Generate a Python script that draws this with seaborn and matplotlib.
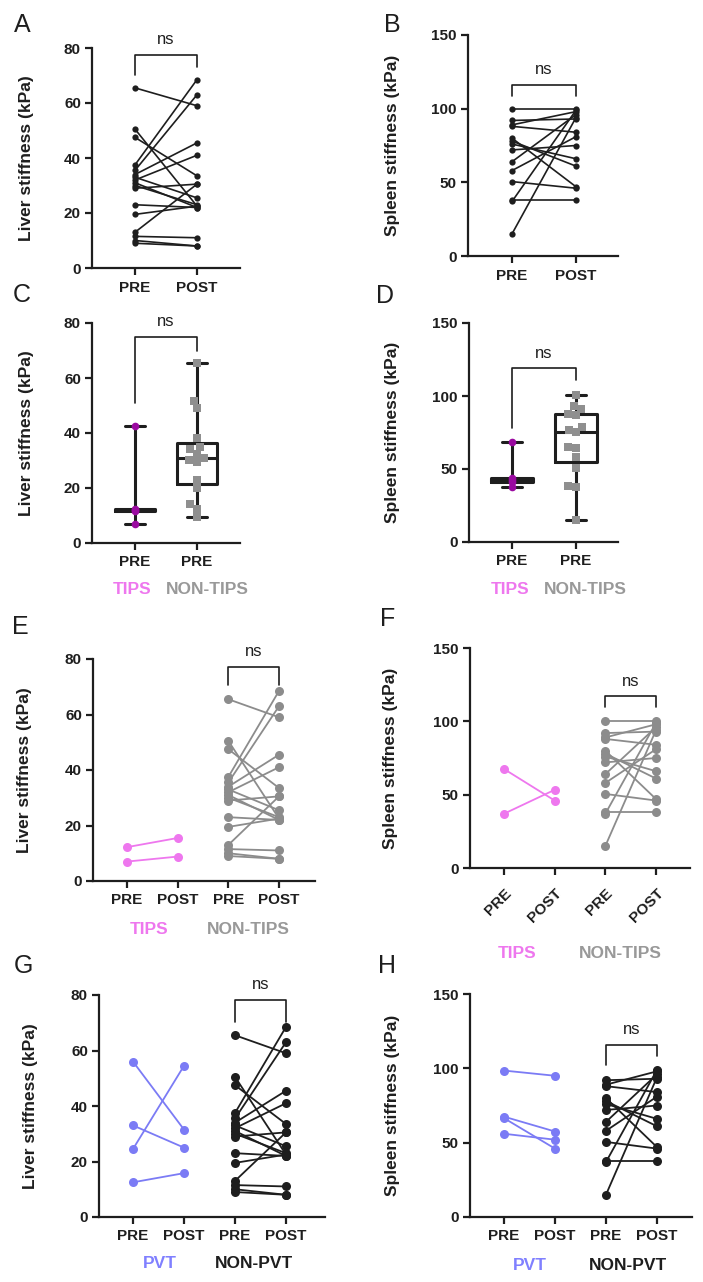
import numpy as np
import pandas as pd
import matplotlib
matplotlib.use("Agg")
import matplotlib.pyplot as plt
import seaborn as sns

# ---------------- data ----------------
time_labels = ["PRE", "POST"]

# all / non-TIPS / non-PVT liver stiffness (kPa)
liver_pre = [65.5, 50.5, 47.5, 37.5, 35.5, 34, 33, 32, 31, 30, 29, 23, 19.5, 13, 11.5, 10, 9]
liver_post = [59, 22.5, 33.5, 68.5, 63, 45.5, 25.5, 41, 22, 23, 30.5, 22, 22.5, 30.5, 11, 8, 8]

# all / non-TIPS spleen stiffness (kPa)
spleen_pre = [100, 92, 89, 88, 80, 78, 76, 72, 64, 58, 50.5, 38, 37, 15]
spleen_post = [100, 93, 98, 84, 47, 61, 66, 75, 96, 81, 46, 38, 99, 94]

# non-PVT spleen
nonpvt_spleen_pre = [92, 89, 88, 80, 78, 76, 72, 64, 58, 50.5, 38, 37, 15]
nonpvt_spleen_post = [93, 98, 84, 47, 61, 66, 75, 96, 81, 46, 38, 99, 94]

# TIPS pairs
tips_liver_pre = [12.2, 7.0]
tips_liver_post = [15.5, 8.8]
tips_spleen_pre = [67.5, 37.0]
tips_spleen_post = [46.0, 53.3]

# PVT pairs
pvt_liver_pre = [56, 33, 24.5, 12.5]
pvt_liver_post = [31.5, 25, 54.5, 15.8]
pvt_spleen_pre = [98.5, 67.5, 66.5, 56]
pvt_spleen_post = [95, 57.5, 46, 52]

# box panels (PRE only)
box_tips_liver = [42.5, 12.5, 12, 11.5, 7]
box_nontips_liver = [65.5, 51.5, 49, 38, 35, 34, 32.5, 31, 30, 29.5, 23, 20, 14, 12.5, 9.5]
box_tips_spleen = [68.5, 44, 42.5, 41, 38]
box_nontips_spleen = [100.5, 93, 91, 88, 87, 78.5, 77, 75, 65, 64.5, 58.5, 51, 38.5, 37.5, 15]

# ---------------- style ----------------
sns.set_style("ticks")
plt.rcParams["font.family"] = ["Liberation Sans", "DejaVu Sans"]

W, H = 703, 1282
fig = plt.figure(figsize=(W / 100, H / 100), dpi=100)

BLACK = "#1e1e1e"
GRAY = "#8c8c8c"
MAGENTA = "#ee77ee"
PURPLE = "#9a0aa0"
BLUE = "#7b7bf5"
SQUARE = "#8f8f8f"


def make_ax(spine_x, right_x, top_y, zero_y, c0, d, ymax):
    ax = fig.add_axes([spine_x / W, 1 - zero_y / H, (right_x - spine_x) / W, (zero_y - top_y) / H])
    ax._xl = ((spine_x - c0) / d, (right_x - c0) / d)
    ax._ymax = ymax
    return ax


def style(ax, yticks, xticklabels, rot=0):
    ax.set_xlim(*ax._xl)
    ax.set_ylim(0, ax._ymax)
    ax.set_yticks(yticks)
    ax.set_yticklabels([str(v) for v in yticks])
    ax.set_xticks(range(len(xticklabels)))
    if rot:
        ax.set_xticklabels(xticklabels, rotation=rot, ha="right", rotation_mode="anchor")
    else:
        ax.set_xticklabels(xticklabels)
    for s in ["top", "right"]:
        ax.spines[s].set_visible(False)
    ax.spines["left"].set_bounds(0, ax._ymax)
    for s in ["left", "bottom"]:
        ax.spines[s].set_linewidth(1.6)
        ax.spines[s].set_color(BLACK)
    ax.tick_params(axis="y", width=1.6, length=5, labelsize=11, pad=3, colors=BLACK)
    ax.tick_params(axis="x", width=1.6, length=5, labelsize=11, pad=8 if rot else 4, colors=BLACK)
    for lab in ax.get_xticklabels() + ax.get_yticklabels():
        lab.set_fontweight("bold")
    ax.set_xlabel("")
    ax.set_ylabel("")
    ax.set_facecolor("none")


def bracket(ax, x0, x1, ytop, yl, yr):
    ax.plot([x0, x0, x1, x1], [yl, ytop, ytop, yr], color=BLACK, lw=1.2, clip_on=False)
    ax.text((x0 + x1) / 2, ytop + ax._ymax * 0.035, "ns", ha="center", va="bottom",
            fontsize=12, color=BLACK, clip_on=False)


def ftext(x, y, s, **kw):
    fig.text(x / W, 1 - y / H, s, ha="center", va="center", **kw)


def paired_df(groups, cats):
    rows = []
    for gname, pre, post, kpre, kpost in groups:
        for i, (a, b) in enumerate(zip(pre, post)):
            rows.append((f"{gname}{i}", cats.index(kpre), a, gname))
            rows.append((f"{gname}{i}", cats.index(kpost), b, gname))
    return pd.DataFrame(rows, columns=["subject", "x", "value", "group"])


def paired_plot(ax, df, palette, ms, lw):
    sns.lineplot(data=df, x="x", y="value", units="subject", estimator=None, hue="group",
                 palette=palette, marker="o", markersize=ms, markeredgewidth=0,
                 linewidth=lw, legend=False, ax=ax, clip_on=False)


liver_ticks = [0, 20, 40, 60, 80]
spleen_ticks = [0, 50, 100, 150]

# ---------------- A ----------------
axA = make_ax(92, 240, 48, 268, 135, 62, 80)
catsA = ["PRE", "POST"]
dfA = paired_df([("all", liver_pre, liver_post, "PRE", "POST")], catsA)
paired_plot(axA, dfA, {"all": BLACK}, 4.5, 1.2)
style(axA, liver_ticks, time_labels)
bracket(axA, 0, 1, 77.5, 70.2, 73)

# ---------------- B ----------------
axB = make_ax(468, 618, 35, 256, 512, 64, 150)
dfB = paired_df([("all", spleen_pre, spleen_post, "PRE", "POST")], catsA)
paired_plot(axB, dfB, {"all": BLACK}, 4.5, 1.2)
style(axB, spleen_ticks, time_labels)
bracket(axB, 0, 1, 116, 108.6, 108.6)

# ---------------- C ----------------
def box_panel(ax, tips_vals, non_vals):
    df = pd.DataFrame({"group": ["TIPS"] * len(tips_vals) + ["NON-TIPS"] * len(non_vals),
                       "value": list(tips_vals) + list(non_vals)})
    order = ["TIPS", "NON-TIPS"]
    sns.boxplot(data=df, x="group", y="value", order=order, whis=(0, 100), width=0.65,
                fill=False, color=BLACK, linewidth=2.2, showfliers=False, ax=ax)
    sns.stripplot(data=df[df.group == "TIPS"], x="group", y="value", order=order,
                  jitter=False, color=PURPLE, size=5.5, linewidth=0, ax=ax, zorder=5)
    sns.swarmplot(data=df[df.group == "NON-TIPS"], x="group", y="value", order=order,
                  color=SQUARE, marker="s", size=5.5, linewidth=0, ax=ax, zorder=5)

axC = make_ax(92, 240, 323, 543, 135, 62, 80)
box_panel(axC, box_tips_liver, box_nontips_liver)
style(axC, liver_ticks, ["PRE", "PRE"])
bracket(axC, 0, 1, 75, 51, 70)

# ---------------- D ----------------
axD = make_ax(469, 618, 323, 542, 512, 64, 150)
box_panel(axD, box_tips_spleen, box_nontips_spleen)
style(axD, spleen_ticks, ["PRE", "PRE"])
bracket(axD, 0, 1, 119, 78, 111)

# ---------------- E ----------------
cats4 = ["g1PRE", "g1POST", "g2PRE", "g2POST"]
lab4 = ["PRE", "POST", "PRE", "POST"]
axE = make_ax(93, 315, 659, 881, 127, 50.67, 80)
dfE = paired_df([("TIPS", tips_liver_pre, tips_liver_post, "g1PRE", "g1POST"),
                 ("NON", liver_pre, liver_post, "g2PRE", "g2POST")], cats4)
paired_plot(axE, dfE, {"TIPS": MAGENTA, "NON": GRAY}, 6.5, 1.3)
style(axE, liver_ticks, lab4)
bracket(axE, 2, 3, 77.2, 70.6, 70.6)

# ---------------- F ----------------
axF = make_ax(470, 690, 648, 868, 504, 50.67, 150)
dfF = paired_df([("TIPS", tips_spleen_pre, tips_spleen_post, "g1PRE", "g1POST"),
                 ("NON", spleen_pre, spleen_post, "g2PRE", "g2POST")], cats4)
paired_plot(axF, dfF, {"TIPS": MAGENTA, "NON": GRAY}, 6.5, 1.3)
style(axF, spleen_ticks, lab4, rot=45)
bracket(axF, 2, 3, 117, 110, 110)

# ---------------- G ----------------
axG = make_ax(99, 325, 995, 1217, 133, 51, 80)
dfG = paired_df([("PVT", pvt_liver_pre, pvt_liver_post, "g1PRE", "g1POST"),
                 ("NON", liver_pre, liver_post, "g2PRE", "g2POST")], cats4)
paired_plot(axG, dfG, {"PVT": BLUE, "NON": BLACK}, 6.5, 1.3)
style(axG, liver_ticks, lab4)
bracket(axG, 2, 3, 78.2, 70.4, 70.4)

# ---------------- H ----------------
axH = make_ax(470, 692, 994, 1217, 504, 51, 150)
dfH = paired_df([("PVT", pvt_spleen_pre, pvt_spleen_post, "g1PRE", "g1POST"),
                 ("NON", nonpvt_spleen_pre, nonpvt_spleen_post, "g2PRE", "g2POST")], cats4)
paired_plot(axH, dfH, {"PVT": BLUE, "NON": BLACK}, 6.5, 1.3)
style(axH, spleen_ticks, lab4)
bracket(axH, 2, 3, 115.7, 102, 108)

# ---------------- texts ----------------
LIVER = "Liver stiffness (kPa)"
SPLEEN = "Spleen stiffness (kPa)"
for x, y, s in [(27, 158, LIVER), (392, 145, SPLEEN), (27, 433, LIVER), (392, 432, SPLEEN),
                (25, 770, LIVER), (391, 758, SPLEEN), (31, 1106, LIVER), (392, 1105, SPLEEN)]:
    ftext(x, y, s, rotation=90, fontsize=12.5, fontweight="bold", color=BLACK)

for x, y, s in [(22, 25, "A"), (392, 25, "B"), (22, 295, "C"), (385, 296, "D"),
                (20, 627, "E"), (388, 619, "F"), (23, 966, "G"), (387, 966, "H")]:
    ftext(x, y, s, fontsize=18, color=BLACK)

GL = dict(fontsize=12.5, fontweight="bold")
ftext(132, 590, "TIPS", color=MAGENTA, **GL)
ftext(207, 590, "NON-TIPS", color="#999999", **GL)
ftext(510, 590, "TIPS", color=MAGENTA, **GL)
ftext(585, 590, "NON-TIPS", color="#999999", **GL)
ftext(149, 930, "TIPS", color=MAGENTA, **GL)
ftext(248, 930, "NON-TIPS", color="#999999", **GL)
ftext(517, 954, "TIPS", color=MAGENTA, **GL)
ftext(620, 954, "NON-TIPS", color="#999999", **GL)
ftext(160, 1263, "PVT", color="#8080ff", **GL)
ftext(254, 1263, "NON-PVT", color=BLACK, **GL)
ftext(530, 1265, "PVT", color="#8080ff", **GL)
ftext(628, 1265, "NON-PVT", color=BLACK, **GL)

fig.savefig("out.png", dpi=100, facecolor="white")
